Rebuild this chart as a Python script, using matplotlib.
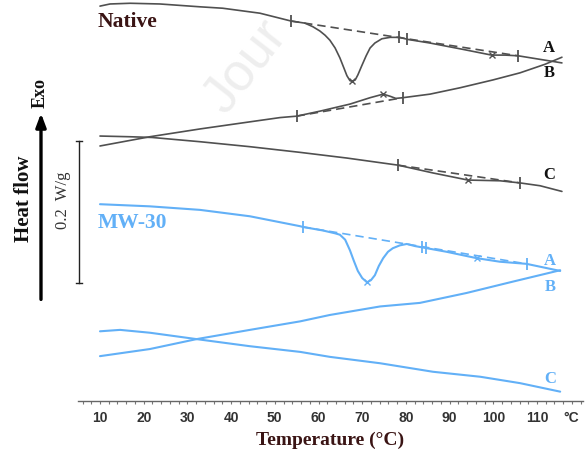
import matplotlib
matplotlib.use("Agg")
import matplotlib.pyplot as plt
from matplotlib.ticker import FixedLocator

# ---------------- data (Temperature in degC, heat flow in W/g, curves offset) -------------
native_A_T = [10.0, 12.3, 16.9, 23.7, 32.9, 38.1, 46.6, 53.7, 56.9, 58.7, 60.3, 61.5, 62.6, 63.8,
              64.9, 65.8, 66.5, 67.2, 67.7, 68.4, 69.0, 69.9, 70.9, 71.8, 72.9, 74.5, 76.4, 78.6,
              80.5, 85.5, 93.1, 99.6, 102.7, 105.7, 110.7, 115.7]
native_A_h = [0.559, 0.562, 0.563, 0.562, 0.558, 0.556, 0.549, 0.538, 0.535, 0.530, 0.524, 0.518,
              0.511, 0.500, 0.486, 0.472, 0.461, 0.454, 0.453, 0.455, 0.462, 0.475, 0.489, 0.500,
              0.507, 0.513, 0.515, 0.515, 0.512, 0.507, 0.498, 0.490, 0.490, 0.489, 0.484, 0.479]

native_B_T = [10.0, 21.4, 32.9, 44.3, 51.2, 55.0, 60.3, 67.2, 71.8, 74.8, 76.4, 77.7, 79.3, 85.5,
              92.4, 99.9, 106.1, 111.8, 115.7]
native_B_h = [0.362, 0.375, 0.386, 0.396, 0.402, 0.404, 0.411, 0.421, 0.430, 0.435, 0.432, 0.429,
              0.430, 0.435, 0.444, 0.455, 0.465, 0.477, 0.487]

native_C_T = [10.0, 16.9, 21.9, 32.9, 44.3, 55.8, 66.5, 78.2, 86.2, 94.2, 101.5, 106.1, 110.7, 115.7]
native_C_h = [0.376, 0.375, 0.374, 0.368, 0.361, 0.353, 0.345, 0.335, 0.324, 0.314, 0.313, 0.310,
              0.306, 0.298]

mw_A_T = [10.0, 21.4, 32.9, 44.3, 55.8, 56.4, 61.0, 63.8, 64.9, 66.1, 67.2, 68.1, 69.0, 70.0, 71.1,
          72.0, 72.9, 73.8, 74.8, 75.9, 77.0, 78.6, 80.2, 82.1, 83.9, 89.3, 96.2, 101.5, 107.6, 115.3]
mw_A_h = [0.280, 0.277, 0.272, 0.263, 0.249, 0.248, 0.243, 0.239, 0.237, 0.230, 0.215, 0.200, 0.186,
          0.176, 0.170, 0.173, 0.180, 0.193, 0.204, 0.213, 0.218, 0.222, 0.224, 0.221, 0.219, 0.213,
          0.204, 0.199, 0.196, 0.186]

mw_B_T = [10.0, 21.4, 32.1, 44.3, 55.8, 62.6, 74.1, 83.2, 93.9, 104.5, 115.3]
mw_B_h = [0.066, 0.076, 0.090, 0.103, 0.115, 0.124, 0.136, 0.141, 0.155, 0.171, 0.187]

mw_C_T = [10.0, 14.6, 21.4, 32.1, 44.3, 55.8, 62.6, 74.1, 86.2, 97.0, 106.1, 115.3]
mw_C_h = [0.101, 0.103, 0.099, 0.090, 0.080, 0.072, 0.065, 0.056, 0.044, 0.037, 0.028, 0.016]

# analysis baselines (onset -> endset)
native_A_base_T = [53.7, 105.7]; native_A_base_h = [0.538, 0.489]
native_B_base_T = [55.0, 79.3];  native_B_base_h = [0.404, 0.430]
native_C_base_T = [78.2, 106.1]; native_C_base_h = [0.335, 0.310]
mw_A_base_T = [56.4, 107.6];     mw_A_base_h = [0.248, 0.196]

# analysis markers: '|' limits, 'x' points
native_A_bar_T = [53.7, 78.4, 80.2, 105.7]; native_A_bar_h = [0.538, 0.515, 0.513, 0.489]
native_A_x_T = [67.7, 99.6];                native_A_x_h = [0.453, 0.490]
native_B_bar_T = [55.0, 79.3];              native_B_bar_h = [0.404, 0.430]
native_B_x_T = [74.8];                      native_B_x_h = [0.435]
native_C_bar_T = [78.2, 106.1];             native_C_bar_h = [0.335, 0.310]
native_C_x_T = [94.2];                      native_C_x_h = [0.314]
mw_A_bar_T = [56.4, 83.6, 84.5, 107.6];     mw_A_bar_h = [0.248, 0.220, 0.219, 0.196]
mw_A_x_T = [71.1, 96.2];                    mw_A_x_h = [0.170, 0.204]

x_major = [10, 20, 30, 40, 50, 60, 70, 80, 90, 100, 110]

# ---------------- figure ----------------
dark = "#505050"
blue = "#62b0f7"
brown = "#3a1414"
serif = ["Liberation Serif", "DejaVu Serif"]

fig = plt.figure(figsize=(5.85, 4.53), dpi=100)
ax = fig.add_axes([0, 0, 1, 1])
ax.set_xlim(-12.88, 120.98)
ax.set_ylim(-0.0704, 0.5676)
for s in ["top", "right", "left"]:
    ax.spines[s].set_visible(False)
ax.spines["bottom"].set_position(("data", 0.003))
ax.spines["bottom"].set_bounds(5, 120.5)
ax.spines["bottom"].set_color("#666666")
ax.spines["bottom"].set_linewidth(1.0)
ax.set_yticks([])
ax.xaxis.set_major_locator(FixedLocator(x_major))
ax.xaxis.set_minor_locator(FixedLocator(list(range(6, 121, 2))))
ax.tick_params(axis="x", which="both", direction="out", color="#777777", length=2.5, width=0.8,
               pad=4.5, labelsize=10, labelcolor="#333333")
for lab in ax.get_xticklabels():
    lab.set_fontweight("bold")
    lab.set_family(["Liberation Sans", "DejaVu Sans"])

# faint watermark
ax.text(38.5, 0.405, "Jour", rotation=52, fontsize=38, color="#eeeeee",
        family=["Liberation Sans", "DejaVu Sans"], ha="left", va="baseline", zorder=0,
        rotation_mode="anchor")

# curves
for T, h, c, lw in [(native_A_T, native_A_h, dark, 1.2), (native_B_T, native_B_h, dark, 1.2),
                    (native_C_T, native_C_h, dark, 1.2), (mw_A_T, mw_A_h, blue, 1.5),
                    (mw_B_T, mw_B_h, blue, 1.5), (mw_C_T, mw_C_h, blue, 1.5)]:
    ax.plot(T, h, color=c, lw=lw, zorder=3, solid_capstyle="round")

for T, h, c in [(native_A_base_T, native_A_base_h, dark), (native_B_base_T, native_B_base_h, dark),
                (native_C_base_T, native_C_base_h, dark), (mw_A_base_T, mw_A_base_h, blue)]:
    ax.plot(T, h, color=c, lw=1.2, ls=(0, (5, 3)), zorder=3)

for T, h, c in [(native_A_bar_T, native_A_bar_h, dark), (native_B_bar_T, native_B_bar_h, dark),
                (native_C_bar_T, native_C_bar_h, dark), (mw_A_bar_T, mw_A_bar_h, blue)]:
    ax.plot(T, h, ls="none", marker="|", ms=8, mew=1.3, color=c, zorder=4)
for T, h, c in [(native_A_x_T, native_A_x_h, dark), (native_B_x_T, native_B_x_h, dark),
                (native_C_x_T, native_C_x_h, dark), (mw_A_x_T, mw_A_x_h, blue)]:
    ax.plot(T, h, ls="none", marker="x", ms=4, mew=1.0, color=c, zorder=4)

# curve letters
for txt, x, y, c in [("A", 112.7, 0.500, "#111111"), ("B", 112.7, 0.465, "#111111"),
                     ("C", 112.7, 0.321, "#111111"), ("A", 113.0, 0.200, blue),
                     ("B", 113.0, 0.163, blue), ("C", 113.0, 0.034, blue)]:
    ax.text(x, y, txt, color=c, fontsize=12, fontweight="bold", family=serif,
            ha="center", va="center")

ax.text(9.5, 0.537, "Native", color=brown, fontsize=15.5, fontweight="bold", family=serif,
        ha="left", va="center")
ax.text(9.5, 0.254, "MW-30", color=blue, fontsize=15.5, fontweight="bold", family=serif,
        ha="left", va="center")

# scale bar
ax.plot([5.2, 5.2], [0.169, 0.369], color="#222222", lw=1.0)
ax.plot([4.5, 5.9], [0.369, 0.369], color="#222222", lw=1.0)
ax.plot([4.5, 5.9], [0.169, 0.169], color="#222222", lw=1.0)
ax.text(1.5, 0.286, "0.2  W/g", rotation=90, fontsize=12, family=serif, color="#333333",
        ha="center", va="center")

# heat flow arrow
ax.annotate("", xy=(-3.5, 0.412), xytext=(-3.5, 0.142),
            arrowprops=dict(arrowstyle="-|>,head_length=0.8,head_width=0.3", color="black", lw=2.4))
ax.text(-3.7, 0.437, "Exo", rotation=90, fontsize=13, fontweight="bold", family=serif,
        color="#111111", ha="center", va="center")
ax.text(-7.4, 0.287, "Heat flow", rotation=90, fontsize=15, fontweight="bold", family=serif,
        color="#111111", ha="center", va="center")

# axis titles
ax.text(117.8, -0.0215, "°C", fontsize=10, fontweight="bold", color="#333333",
        family=["Liberation Sans", "DejaVu Sans"], ha="center", va="center")
ax.text(62.6, -0.052, "Temperature (°C)", fontsize=14, fontweight="bold", family=serif,
        color=brown, ha="center", va="center")

fig.savefig("out.png", dpi=100)
